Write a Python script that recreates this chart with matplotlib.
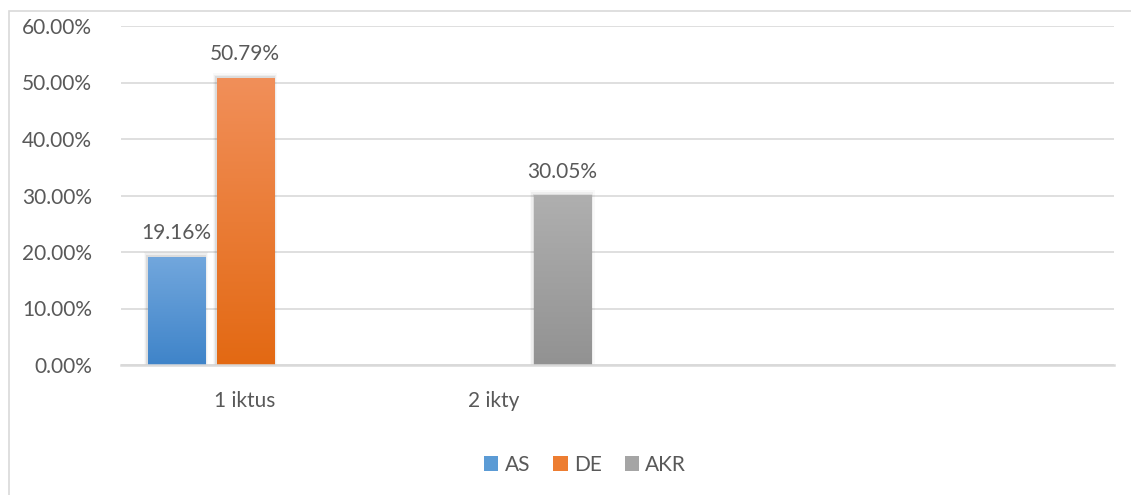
import matplotlib.pyplot as plt
import numpy as np
from matplotlib.patches import Rectangle

plt.rcParams['font.family'] = ['Lato', 'DejaVu Sans']

categories = ["1 iktus", "2 ikty", "", ""]
series = ["AS", "DE", "AKR"]
as_vals = [0.1916, np.nan, np.nan, np.nan]
de_vals = [0.5079, np.nan, np.nan, np.nan]
akr_vals = [np.nan, 0.3005, np.nan, np.nan]
yticks = [0.0, 0.1, 0.2, 0.3, 0.4, 0.5, 0.6]

# top / bottom colour of each gradient
grad = {
    "AS": ("#72a7dd", "#3f84c9"),
    "DE": ("#f18f59", "#e36913"),
    "AKR": ("#afafaf", "#929292"),
}
legend_col = {"AS": "#5b9bd5", "DE": "#ed7d31", "AKR": "#a5a5a5"}
text_col = "#595959"
grid_col = "#d9d9d9"

fig = plt.figure(figsize=(11.31, 4.95), dpi=100)
ax = fig.add_axes([121 / 1131, 1 - 365 / 495, (1114 - 121) / 1131, (365 - 26) / 495])

# outer chart frame
fig.patches.append(Rectangle((9 / 1131, -0.01), 1.1, 1 - 11 / 495 + 0.01,
                             transform=fig.transFigure, fill=False,
                             edgecolor=grid_col, linewidth=1.2))

x = np.arange(len(categories))
width = 0.23
step = 0.278

for i, (name, vals) in enumerate(zip(series, [as_vals, de_vals, akr_vals])):
    pos = x + (i - 1) * step
    bars = ax.bar(pos, np.nan_to_num(vals), width, color=grad[name][1],
                  label=name, zorder=3, linewidth=0)
    top, bot = grad[name]
    cmap = plt.matplotlib.colors.LinearSegmentedColormap.from_list(name, [bot, top])
    for b, v in zip(bars, vals):
        if np.isnan(v):
            b.set_visible(False)
            continue
        x0, w, h = b.get_x(), b.get_width(), b.get_height()
        # soft shadow
        for k, a in enumerate([0.07, 0.045, 0.025]):
            d = 0.005 * (k + 1)
            ax.add_patch(Rectangle((x0 - d, 0), w + 2 * d, h + d * 0.6,
                                   facecolor="black", alpha=a, linewidth=0, zorder=2))
        im = ax.imshow(np.linspace(0, 1, 100).reshape(-1, 1), cmap=cmap,
                       extent=[x0, x0 + w, 0, h], origin="lower", aspect="auto",
                       zorder=3.5)
        im.set_clip_path(b)
        ax.text(x0 + w / 2, h + 0.024, f"{v * 100:.2f}%", ha="center", va="bottom",
                fontsize=15, color=text_col, zorder=5)

ax.set_aspect("auto")
ax.set_xlim(-0.5, len(categories) - 0.5)
ax.set_ylim(0, 0.6)

ax.set_yticks(yticks)
ax.set_yticklabels([f"{t * 100:.2f}%" for t in yticks], fontsize=15, color=text_col)
ax.set_xticks(x)
ax.set_xticklabels(categories, fontsize=15, color=text_col)
ax.tick_params(length=0, pad=21, axis="y")
ax.tick_params(length=0, pad=19, axis="x")
ax.grid(axis="y", color=grid_col, linewidth=1.2, zorder=0)
for s in ["top", "right", "left"]:
    ax.spines[s].set_visible(False)
ax.spines["bottom"].set_color(grid_col)
ax.spines["bottom"].set_linewidth(1.8)
ax.spines["bottom"].set_zorder(4)

handles = [Rectangle((0, 0), 1, 1, facecolor=legend_col[n]) for n in series]
leg = fig.legend(handles, series, loc="center", bbox_to_anchor=(585 / 1131, 1 - 465 / 495),
                 ncol=3, frameon=False, fontsize=15, handlelength=0.7, handleheight=0.7,
                 handletextpad=0.3, columnspacing=1.1)
for t in leg.get_texts():
    t.set_color(text_col)

fig.savefig("out.png", dpi=100)
